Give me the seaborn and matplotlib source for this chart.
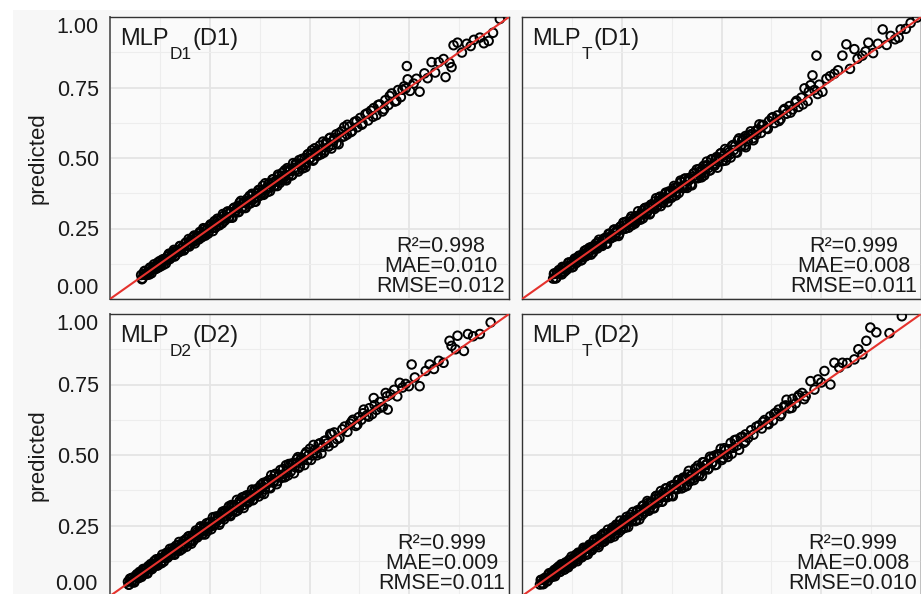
import numpy as np
import pandas as pd
import matplotlib
matplotlib.use("Agg")
import matplotlib.pyplot as plt
import seaborn as sns
from matplotlib.patches import Rectangle

sns.set_theme(style="white")
plt.rcParams['font.family'] = ['Liberation Sans', 'DejaVu Sans']

# ---------------- data ----------------
ERR_UNIT = 700.0  # band errors are given in units of 1/700

# dense lower band, dataset D1 (top row): observed values (two sub-samples)
d1_band_actual = [
    0.078, 0.081, 0.086, 0.089, 0.094, 0.098, 0.101, 0.106, 0.110, 0.113,
    0.118, 0.122, 0.125, 0.130, 0.134, 0.137, 0.142, 0.147, 0.150, 0.154,
    0.159, 0.162, 0.166, 0.171, 0.175, 0.178, 0.183, 0.187, 0.190, 0.195,
    0.199, 0.203, 0.207, 0.211, 0.215, 0.220, 0.223, 0.227, 0.232, 0.236,
    0.239, 0.244, 0.248, 0.252, 0.256, 0.260, 0.264, 0.269, 0.272, 0.276,
    0.281, 0.285, 0.288, 0.293, 0.297, 0.301, 0.305, 0.309, 0.313, 0.318,
    0.321, 0.325, 0.330, 0.334, 0.337, 0.342, 0.346, 0.350, 0.354, 0.358,
    0.362, 0.367, 0.370, 0.374, 0.379, 0.383, 0.386, 0.391, 0.395, 0.399,
    0.403, 0.407, 0.411, 0.416, 0.419, 0.423, 0.428, 0.432, 0.435, 0.440,
    0.444, 0.448, 0.452, 0.457, 0.461, 0.465, 0.470, 0.474, 0.479, 0.483,
    0.488, 0.492, 0.497, 0.502, 0.506, 0.511, 0.516, 0.521, 0.526, 0.531,
    0.536, 0.541, 0.547, 0.552, 0.558]
d1_band2_actual = [
    0.080, 0.084, 0.087, 0.092, 0.096, 0.100, 0.104, 0.108, 0.111, 0.116,
    0.120, 0.123, 0.128, 0.132, 0.135, 0.140, 0.144, 0.148, 0.152, 0.157,
    0.160, 0.164, 0.169, 0.173, 0.176, 0.181, 0.185, 0.189, 0.193, 0.197,
    0.201, 0.205, 0.209, 0.213, 0.217, 0.221, 0.225, 0.230, 0.234, 0.238,
    0.242, 0.246, 0.250, 0.254, 0.258, 0.262, 0.267, 0.271, 0.274, 0.279,
    0.283, 0.287, 0.291, 0.295, 0.299, 0.303, 0.307, 0.311, 0.316, 0.320,
    0.323, 0.328, 0.332, 0.336, 0.340, 0.344, 0.348, 0.352, 0.356, 0.360,
    0.365, 0.369, 0.372, 0.377, 0.381, 0.385, 0.389, 0.393, 0.397, 0.401,
    0.405, 0.409, 0.414, 0.418, 0.421, 0.426, 0.430, 0.434, 0.438, 0.442,
    0.446, 0.450, 0.455, 0.459, 0.463, 0.468, 0.472, 0.476, 0.481, 0.486,
    0.490, 0.495, 0.499, 0.504, 0.509, 0.513, 0.518, 0.523, 0.529, 0.534,
    0.539, 0.544, 0.550, 0.555, 0.561, 0.567, 0.573, 0.580, 0.587, 0.595]

# prediction errors on the D1 band
err_mlpd1_d1 = [
    5, -6, 8, -3, 1, -8, 6, -2, 9, -5, 3, -7, 7, -1, -9, 4, -4, 8, -6, 2,
    6, -8, 3, -3, 9, -5, 1, -7, 7, -2, -9, 5, -4, 10, -6, 2, -8, 6, -1, 8,
    -10, 4, -5, 9, -3, 1, -8, 11, -6, 3, -9, 7, -2, 10, -7, 4, -11, 8, -4, 2,
    -9, 12, -5, 6, -10, 3, -7, 11, -2, 8, -12, 5, -6, 9, -3, 13, -9, 1, -11, 7,
    -4, 12, -8, 3, -13, 9, -5, 11, -1, -10, 14, -6, 6, -12, 2, 10, -8, 13, -4, -14,
    8, -7, 12, -2, 15, -11, 5, -9, 13, -3, -12, 10, -6, 14, -8]
err2_mlpd1_d1 = [
    -7, 3, 9, -5, -2, 8, -9, 4, 1, -6, 7, -3, -8, 6, 2, -10, 5, 9, -4, -1,
    10, -7, 3, -5, 8, 1, -9, 6, -3, 11, -6, 2, 8, -11, 4, -2, 9, -8, 12, -4,
    1, -10, 7, 5, -12, 10, -3, 6, -9, 2, 13, -7, -1, 11, -6, 4, -13, 9, -2, 7,
    -10, 14, -5, 3, -12, 8, 1, -9, 12, -4, -14, 6, 10, -7, 2, -11, 15, -3, 8, -13,
    5, 11, -8, -1, 14, -10, 4, -6, 13, -15, 7, 2, -12, 16, -5, 9, -14, 3, 11, -8,
    -16, 12, -2, 8, -13, 15, -6, 4, -11, 17, -9, 6, 14, -15, 1, 12, -17, 10, -7, 16]
err_mlpt_d1 = [
    -4, 7, -8, 2, 6, -3, 9, -7, 1, -5, 8, -2, -9, 5, 3, -6, 7, -1, -8, 4,
    -3, 9, -6, 1, 7, -9, 4, -2, 8, -5, -7, 3, 6, -10, 2, 8, -4, -6, 10, -1,
    5, -9, 7, -3, 11, -7, 2, -5, 9, -10, 4, 6, -8, 1, -11, 8, -3, 10, -6, 3,
    -12, 7, -1, 9, -8, 4, 12, -5, -9, 2, 10, -7, 6, -11, 3, 8, -13, 5, -2, 11,
    -6, 13, -9, 1, 7, -12, 4, 10, -3, -8, 12, -5, 2, -13, 9, 6, -10, 14, -1, -7,
    11, -4, 13, -9, 3, -14, 8, -6, 12, -2, -11, 15, -5, 9, -10]
err2_mlpt_d1 = [
    6, -8, 2, 7, -4, -9, 5, 1, -6, 9, -2, 4, -10, 8, -5, 3, 7, -8, -1, 10,
    -6, 2, 9, -11, 5, -3, 8, -7, 12, -1, -9, 6, 3, -12, 10, -5, 1, 11, -8, 4,
    -13, 7, -2, 12, -6, 9, -10, 3, 13, -4, -11, 5, 14, -8, 2, -12, 10, -3, 7, -14,
    8, 1, -9, 15, -6, 11, -13, 4, -2, 12, -15, 9, 3, -10, 14, -5, 6, -12, 16, -1,
    -8, 13, -14, 7, 2, -16, 11, -4, 15, -9, 5, -13, 12, -7, 17, -2, -11, 14, -6, 9,
    -17, 3, 13, -10, 16, -8, 1, -15, 12, 6, -14, 18, -4, 10, -16, 8, 15, -12, -3, 17]

# dense lower band, dataset D2 (bottom row): observed values (two sub-samples)
d2_band_actual = [
    0.045, 0.048, 0.052, 0.055, 0.059, 0.063, 0.066, 0.070, 0.074, 0.077,
    0.081, 0.085, 0.088, 0.092, 0.096, 0.100, 0.103, 0.107, 0.111, 0.114,
    0.118, 0.122, 0.126, 0.129, 0.133, 0.137, 0.141, 0.144, 0.148, 0.152,
    0.156, 0.160, 0.163, 0.167, 0.171, 0.175, 0.179, 0.182, 0.186, 0.190,
    0.194, 0.198, 0.202, 0.205, 0.209, 0.213, 0.217, 0.221, 0.225, 0.229,
    0.233, 0.236, 0.240, 0.244, 0.248, 0.252, 0.256, 0.260, 0.264, 0.268,
    0.272, 0.276, 0.280, 0.284, 0.288, 0.292, 0.296, 0.300, 0.304, 0.308,
    0.312, 0.316, 0.320, 0.325, 0.329, 0.333, 0.337, 0.341, 0.345, 0.350,
    0.354, 0.358, 0.362, 0.367, 0.371, 0.375, 0.380, 0.384, 0.388, 0.393,
    0.397, 0.402, 0.406, 0.411, 0.415, 0.420, 0.424, 0.429, 0.434, 0.438,
    0.443, 0.448, 0.453, 0.458, 0.463, 0.468, 0.473, 0.478, 0.484, 0.489,
    0.495, 0.501, 0.507, 0.513, 0.519, 0.526, 0.533, 0.540, 0.548, 0.556]
d2_band2_actual = [
    0.047, 0.050, 0.054, 0.057, 0.061, 0.065, 0.068, 0.072, 0.076, 0.079,
    0.083, 0.087, 0.090, 0.094, 0.098, 0.102, 0.105, 0.109, 0.113, 0.116,
    0.120, 0.124, 0.128, 0.131, 0.135, 0.139, 0.143, 0.146, 0.150, 0.154,
    0.158, 0.162, 0.165, 0.169, 0.173, 0.177, 0.181, 0.184, 0.188, 0.192,
    0.196, 0.200, 0.204, 0.207, 0.211, 0.215, 0.219, 0.223, 0.227, 0.231,
    0.235, 0.238, 0.242, 0.246, 0.250, 0.254, 0.258, 0.262, 0.266, 0.270,
    0.274, 0.278, 0.282, 0.286, 0.290, 0.294, 0.298, 0.302, 0.306, 0.310,
    0.314, 0.318, 0.323, 0.327, 0.331, 0.335, 0.339, 0.343, 0.348, 0.352,
    0.356, 0.360, 0.365, 0.369, 0.373, 0.378, 0.382, 0.386, 0.391, 0.395,
    0.400, 0.404, 0.409, 0.413, 0.418, 0.422, 0.427, 0.431, 0.436, 0.441,
    0.446, 0.451, 0.456, 0.461, 0.466, 0.471, 0.476, 0.481, 0.487, 0.492,
    0.498, 0.504, 0.510, 0.516, 0.523, 0.530, 0.537, 0.544, 0.552, 0.560]

err_mlpd2_d2 = [
    4, -5, 7, -2, -7, 3, 6, -4, 8, -1, -6, 5, 2, -8, 7, -3, 1, -5, 9, -2,
    -7, 4, 6, -9, 3, -1, 8, -6, 2, -4, 9, -8, 5, -2, 7, -10, 3, 1, -6, 8,
    -3, 10, -7, 4, -9, 2, 6, -5, 11, -1, -8, 7, 3, -10, 9, -4, 1, -7, 12, -2,
    5, -11, 8, -3, 10, -6, 2, -9, 13, -5, 7, -1, -12, 9, 4, -8, 11, -3, -10, 6,
    2, -13, 10, -5, 8, -1, -11, 12, -7, 3, 9, -14, 6, -2, 13, -9, 4, -6, 11, -12,
    1, 14, -8, 7, -4, 12, -13, 5, -1, 10, -9, 15, -6, 3, -14, 11, -3, 8, -12, 13]
err2_mlpd2_d2 = [
    -5, 8, -2, 6, -9, 3, 7, -6, 1, -8, 9, -3, 5, -10, 2, 8, -7, 4, -1, 10,
    -8, 6, -4, 11, -9, 1, 7, -5, 12, -3, 3, -11, 9, -6, 13, -2, -10, 8, 4, -12,
    10, -4, -13, 6, 2, 12, -8, -1, 14, -9, 5, -14, 11, -3, 7, -12, 15, -6, 1, 9,
    -15, 4, 12, -10, 6, -2, 14, -13, 8, 3, -11, 16, -7, 2, 13, -16, 5, 10, -9, -4,
    15, -12, 7, -1, -14, 11, 3, -17, 9, 6, -10, 17, -5, 12, -15, 1, 14, -8, -3, 16,
    -13, 8, 10, -18, 4, 15, -11, 6, -16, 13, 2, -15, 18, -7, 11, -17, 9, -2, 16, -12]
err_mlpt_d2 = [
    -3, 6, -7, 4, 1, -8, 7, -2, 5, -6, 8, -4, -1, 9, -7, 3, 6, -9, 2, -5,
    7, -3, -8, 5, 1, -6, 9, -2, -7, 4, 8, -10, 3, 6, -4, -9, 10, -1, 5, -7,
    2, 11, -8, -3, 9, -6, 4, -11, 7, 1, -9, 12, -4, 6, -10, 3, 8, -12, 5, -2,
    11, -7, 1, -13, 9, -3, 6, -10, 12, -5, -1, 10, -8, 4, -12, 7, 13, -6, 2, -11,
    8, -4, 14, -9, 3, -13, 10, -1, -7, 12, -5, 9, -14, 6, 11, -10, 2, -8, 13, -3,
    -12, 7, 15, -6, 4, -11, 10, -2, -14, 9, 5, -13, 12, -8, 1, -15, 14, -4, 10, -9]
err2_mlpt_d2 = [
    7, -3, -8, 5, 2, -7, 9, -4, 6, -1, -9, 8, 3, -6, 10, -2, -8, 7, 1, -10,
    4, 11, -5, -2, 8, -11, 6, 2, -9, 12, -4, 5, -12, 9, 1, -7, 13, -3, 10, -13,
    7, -1, 12, -9, -5, 14, -6, 3, 11, -14, 2, 9, -12, 15, -4, -10, 8, 13, -15, 6,
    -7, 14, 1, -13, 10, -16, 5, 12, -8, 3, 16, -11, 7, -2, -14, 13, -6, 9, 17, -12,
    -3, 15, -10, 4, 12, -17, 8, -5, 14, 1, -13, 11, 6, -16, 18, -7, 3, -14, 10, 15,
    -9, -18, 13, 2, -12, 16, -4, 11, -15, 7, 17, -10, 5, -16, 14, -3, 12, -18, 9, -8]

# sparser upper part of each panel: (actual, predicted)
mlpd1_d1_actual = [
    0.562, 0.568, 0.575, 0.581, 0.587, 0.594, 0.600, 0.607, 0.613, 0.620,
    0.627, 0.633, 0.640, 0.647, 0.654, 0.661, 0.668, 0.676, 0.683, 0.690,
    0.698, 0.706, 0.714, 0.722, 0.729, 0.737, 0.741, 0.744, 0.746, 0.752,
    0.761, 0.768, 0.776, 0.788, 0.796, 0.806, 0.815, 0.824, 0.836, 0.841,
    0.851, 0.856, 0.861, 0.871, 0.882, 0.894, 0.904, 0.912, 0.927, 0.937,
    0.949, 0.960, 0.977,
    0.604, 0.618, 0.631, 0.645, 0.659, 0.672, 0.687, 0.701, 0.718, 0.733]
mlpd1_d1_pred = [
    0.571, 0.552, 0.589, 0.574, 0.610, 0.583, 0.611, 0.596, 0.628, 0.609,
    0.642, 0.622, 0.655, 0.633, 0.668, 0.677, 0.652, 0.690, 0.665, 0.705,
    0.688, 0.729, 0.700, 0.741, 0.716, 0.754, 0.747, 0.826, 0.779, 0.738,
    0.764, 0.781, 0.735, 0.800, 0.783, 0.840, 0.803, 0.840, 0.851, 0.787,
    0.837, 0.822, 0.900, 0.909, 0.874, 0.905, 0.897, 0.919, 0.927, 0.907,
    0.915, 0.944, 0.993,
    0.592, 0.631, 0.618, 0.659, 0.646, 0.688, 0.673, 0.720, 0.703, 0.742]

mlpt_d1_actual = [
    0.560, 0.566, 0.573, 0.579, 0.586, 0.592, 0.599, 0.605, 0.612, 0.619,
    0.626, 0.633, 0.640, 0.648, 0.655, 0.663, 0.670, 0.678, 0.685, 0.693,
    0.700, 0.708, 0.716, 0.723, 0.728, 0.733, 0.738, 0.745, 0.753, 0.763,
    0.772, 0.783, 0.792, 0.803, 0.813, 0.822, 0.833, 0.841, 0.853, 0.861,
    0.868, 0.880, 0.892, 0.904, 0.914, 0.924, 0.935, 0.944, 0.949, 0.962,
    0.974, 0.990,
    0.602, 0.616, 0.629, 0.644, 0.658, 0.673, 0.688, 0.704, 0.719, 0.741]
mlpt_d1_pred = [
    0.578, 0.559, 0.584, 0.570, 0.597, 0.602, 0.589, 0.617, 0.605, 0.631,
    0.642, 0.624, 0.651, 0.638, 0.669, 0.657, 0.684, 0.672, 0.697, 0.681,
    0.714, 0.747, 0.702, 0.758, 0.793, 0.741, 0.863, 0.760, 0.735, 0.781,
    0.790, 0.799, 0.811, 0.863, 0.903, 0.816, 0.886, 0.852, 0.863, 0.878,
    0.909, 0.872, 0.905, 0.956, 0.901, 0.933, 0.921, 0.927, 0.956, 0.958,
    0.979, 0.998,
    0.617, 0.603, 0.645, 0.631, 0.674, 0.661, 0.703, 0.690, 0.736, 0.727]

mlpd2_d2_actual = [
    0.562, 0.569, 0.575, 0.582, 0.588, 0.595, 0.602, 0.609, 0.616, 0.623,
    0.630, 0.636, 0.643, 0.650, 0.657, 0.661, 0.668, 0.676, 0.684, 0.691,
    0.696, 0.703, 0.712, 0.720, 0.726, 0.733, 0.741, 0.749, 0.756, 0.764,
    0.776, 0.791, 0.801, 0.812, 0.824, 0.836, 0.851, 0.856, 0.866, 0.871,
    0.887, 0.897, 0.910, 0.927, 0.954,
    0.606, 0.620, 0.634, 0.648, 0.663, 0.679, 0.694]
mlpd2_d2_pred = [
    0.580, 0.556, 0.560, 0.591, 0.601, 0.582, 0.611, 0.625, 0.603, 0.634,
    0.625, 0.661, 0.640, 0.666, 0.645, 0.702, 0.660, 0.688, 0.671, 0.720,
    0.661, 0.715, 0.731, 0.708, 0.756, 0.739, 0.752, 0.744, 0.821, 0.775,
    0.744, 0.798, 0.821, 0.805, 0.834, 0.827, 0.905, 0.887, 0.875, 0.923,
    0.869, 0.929, 0.921, 0.929, 0.970,
    0.619, 0.608, 0.648, 0.636, 0.677, 0.668, 0.708]

mlpt_d2_actual = [
    0.560, 0.567, 0.574, 0.580, 0.587, 0.594, 0.601, 0.608, 0.615, 0.622,
    0.629, 0.636, 0.643, 0.650, 0.657, 0.663, 0.670, 0.678, 0.686, 0.694,
    0.702, 0.711, 0.723, 0.733, 0.742, 0.750, 0.758, 0.773, 0.783, 0.795,
    0.803, 0.815, 0.833, 0.843, 0.853, 0.863, 0.873, 0.888, 0.921, 0.952,
    0.604, 0.618, 0.632, 0.647, 0.661, 0.676, 0.691, 0.707]
mlpt_d2_pred = [
    0.573, 0.561, 0.588, 0.572, 0.600, 0.605, 0.594, 0.624, 0.611, 0.637,
    0.622, 0.650, 0.661, 0.645, 0.673, 0.696, 0.665, 0.699, 0.683, 0.712,
    0.720, 0.708, 0.762, 0.732, 0.768, 0.757, 0.798, 0.750, 0.827, 0.810,
    0.827, 0.826, 0.839, 0.875, 0.857, 0.905, 0.952, 0.935, 0.932, 0.992,
    0.617, 0.609, 0.646, 0.638, 0.676, 0.667, 0.705, 0.698]

title_main = ["MLP", "MLP", "MLP", "MLP"]
title_sub = ["D1", "T", "D2", "T"]
title_tail = ["(D1)", "(D1)", "(D2)", "(D2)"]
metrics = ["R\u00b2=0.998\nMAE=0.010\nRMSE=0.012",
           "R\u00b2=0.999\nMAE=0.008\nRMSE=0.011",
           "R\u00b2=0.999\nMAE=0.009\nRMSE=0.011",
           "R\u00b2=0.999\nMAE=0.008\nRMSE=0.010"]
y_ticks = [0.00, 0.25, 0.50, 0.75, 1.00]
y_tick_labels = ["0.00", "0.25", "0.50", "0.75", "1.00"]
minor_ticks = [0.125, 0.375, 0.625, 0.875]

band_sets = [
    (d1_band_actual, err_mlpd1_d1, d1_band2_actual, err2_mlpd1_d1, mlpd1_d1_actual, mlpd1_d1_pred),
    (d1_band_actual, err_mlpt_d1, d1_band2_actual, err2_mlpt_d1, mlpt_d1_actual, mlpt_d1_pred),
    (d2_band_actual, err_mlpd2_d2, d2_band2_actual, err2_mlpd2_d2, mlpd2_d2_actual, mlpd2_d2_pred),
    (d2_band_actual, err_mlpt_d2, d2_band2_actual, err2_mlpt_d2, mlpt_d2_actual, mlpt_d2_pred)]

frames = []
for i, (ba, be, ba2, be2, sa, sp) in enumerate(band_sets):
    ba, ba2 = np.asarray(ba), np.asarray(ba2)
    bp = ba + np.asarray(be) / ERR_UNIT
    bp2 = ba2 + np.asarray(be2) / ERR_UNIT
    frames.append(pd.DataFrame({"actual": np.concatenate([ba, ba2, sa]),
                                "predicted": np.concatenate([bp, bp2, sp]),
                                "panel": i}))
df = pd.concat(frames, ignore_index=True)

# ---------------- figure ----------------
W, H = 921, 594
fig = plt.figure(figsize=(W / 100, H / 100), dpi=100, facecolor="#F7F7F7")
fig.patches.append(Rectangle((0, 1 - 10 / H), 1, 10 / H, transform=fig.transFigure,
                             facecolor="white", edgecolor="none", zorder=-5))
fig.patches.append(Rectangle((0, 0), 13 / W, 1, transform=fig.transFigure,
                             facecolor="white", edgecolor="none", zorder=-5))

pw, ph = 399, 282
lefts = [110, 522, 110, 522]
tops = [17, 17, 314, 314]
FS = 15.5
FS_T = 17
TXT = "#1a1a1a"

for i in range(4):
    l, t = lefts[i], tops[i]
    ax = fig.add_axes([l / W, (H - t - ph) / H, pw / W, ph / H])
    ax.set_facecolor("#FAFAFA")
    sub = df[df["panel"] == i]
    sns.scatterplot(data=sub, x="actual", y="predicted", ax=ax, s=38,
                    marker="o", color="black", linewidth=1.4, zorder=3,
                    legend=False)
    coll = ax.collections[-1]
    coll.set_facecolor("none")
    coll.set_edgecolor("black")
    ax.axline((0, 0), slope=1, color="#E5322D", lw=1.5, zorder=4)
    ax.set_xlim(0, 1)
    ax.set_ylim(0, 1)
    ax.set_xticks(y_ticks)
    ax.set_yticks(y_ticks)
    ax.set_xticks(minor_ticks, minor=True)
    ax.set_yticks(minor_ticks, minor=True)
    ax.grid(True, which="major", color="#E4E4E4", lw=1.3, zorder=0)
    ax.grid(True, which="minor", color="#EDEDED", lw=0.8, zorder=0)
    ax.set_axisbelow(True)
    ax.tick_params(axis="x", which="both", length=0, labelbottom=False)
    ax.tick_params(axis="y", which="minor", length=0)
    if i % 2 == 0:
        labels = list(y_tick_labels)
        if i == 2:
            labels[0] = ""
        ax.set_yticklabels(labels)
        ax.tick_params(axis="y", which="major", length=5, width=1.1,
                       color="#333333", pad=3, labelsize=FS, labelcolor=TXT)
        for lab in ax.get_yticklabels():
            if lab.get_text() == "1.00":
                lab.set_va("top")
            elif lab.get_text() == "0.00":
                lab.set_va("bottom")
        if i == 2:
            fig.text(97 / W, (H - 585) / H, y_tick_labels[0], ha="right",
                     va="center", fontsize=FS, color=TXT)
    else:
        ax.tick_params(axis="y", which="major", length=0, labelleft=False)
    for name, spn in ax.spines.items():
        spn.set_color("#333333")
        spn.set_linewidth(1.0)
    if i % 2 == 0:
        ax.spines["left"].set_color("#666666")
        ax.spines["left"].set_linewidth(1.4)
    ax.set_xlabel("")
    ax.set_ylabel("")
    # panel title: MLP with subscript, then dataset
    t1 = ax.text(0.025, 0.962, title_main[i], transform=ax.transAxes,
                 ha="left", va="top", fontsize=FS_T, color=TXT)
    t2 = ax.annotate(title_sub[i], xy=(1, 0), xycoords=t1, xytext=(0.6, 2.2),
                     textcoords="offset points", ha="left", va="top",
                     fontsize=FS * 0.8, color=TXT)
    ax.annotate(title_tail[i], xy=(1, 0), xycoords=(t2, t1), xytext=(1.0, 0),
                textcoords="offset points", ha="left", va="bottom",
                fontsize=FS_T, color=TXT)
    ax.text(0.99, 0.006, metrics[i], transform=ax.transAxes, ha="right", va="bottom",
            multialignment="center", fontsize=FS, linespacing=0.95, color=TXT,
            zorder=5)
    if i % 2 == 0:
        fig.text(38 / W, (H - t - ph / 2) / H, "predicted", rotation=90,
                 ha="center", va="center", fontsize=FS + 0.5, color=TXT)

fig.savefig("out.png", dpi=100, facecolor=fig.get_facecolor())
